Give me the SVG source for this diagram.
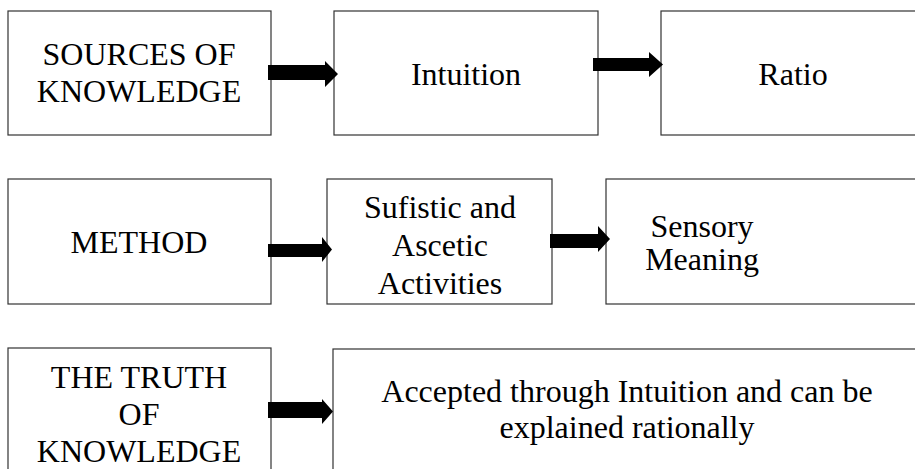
<svg xmlns="http://www.w3.org/2000/svg" width="915" height="469" viewBox="0 0 915 469">
<style>
.box{fill:#fff;stroke:#333;stroke-width:1.2}
.t{font-family:'Liberation Serif',serif;font-size:32px;fill:#000;text-anchor:middle}
.arr{fill:#000}
</style>
<rect width="915" height="469" fill="#fff"/>
<g class="t" font-family="Liberation Serif, serif">
<g id="n-sources"><rect class="box" x="8" y="11" width="263" height="124"/><text x="139" y="65">SOURCES OF</text><text x="139" y="102">KNOWLEDGE</text></g>
<g id="n-intuition"><rect class="box" x="334" y="11" width="264" height="124"/><text x="466" y="85">Intuition</text></g>
<g id="n-ratio"><rect class="box" x="661" y="11" width="264" height="124"/><text x="793" y="85">Ratio</text></g>
<g id="n-method"><rect class="box" x="8" y="179" width="263" height="125"/><text x="139" y="253">METHOD</text></g>
<g id="n-sufistic"><rect class="box" x="327" y="179" width="225" height="125"/><text x="440" y="218">Sufistic and</text><text x="440" y="256">Ascetic</text><text x="440" y="294">Activities</text></g>
<g id="n-sensory"><rect class="box" x="606" y="179" width="319" height="125"/><text x="702" y="237">Sensory</text><text x="702" y="270">Meaning</text></g>
<g id="n-truth"><rect class="box" x="8" y="348" width="263" height="130"/><text x="139" y="388">THE TRUTH</text><text x="139" y="425">OF</text><text x="139" y="462">KNOWLEDGE</text></g>
<g id="n-accepted"><rect class="box" x="333" y="349" width="592" height="130"/><text x="627" y="402">Accepted through Intuition and can be</text><text x="627" y="438">explained rationally</text></g>
</g>
<g id="connectors">
<polygon class="arr" points="268,65 325,65 325,61 338,74 325,87 325,80 268,80"/>
<polygon class="arr" points="593,58 649,58 649,52 663,64.5 649,77 649,71 593,71"/>
<polygon class="arr" points="268,244 322,244 322,237 332,249.5 322,262 322,257 268,257"/>
<polygon class="arr" points="550,234 598,234 598,226 610,239 598,252 598,248 550,248"/>
<polygon class="arr" points="268,402 322,402 322,399 333,411.5 322,424 322,418 268,418"/>
</g>
</svg>
